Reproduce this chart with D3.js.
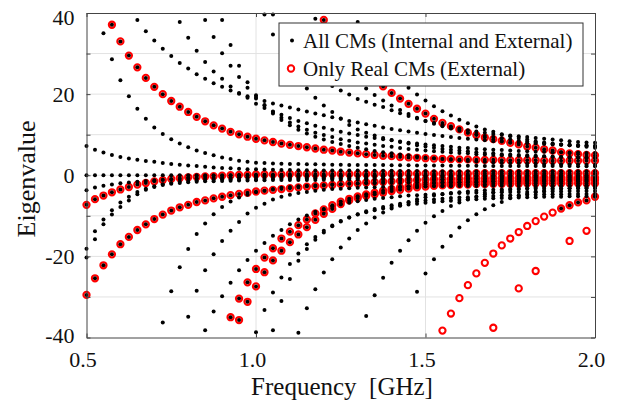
<!DOCTYPE html>
<html>
<head>
<meta charset="utf-8">
<script src="https://cdnjs.cloudflare.com/ajax/libs/d3/7.8.5/d3.min.js"></script>
<style>
  body { margin: 0; background: #fff; }
  svg { display: block; font-family: "Liberation Serif", "Times New Roman", serif; }
</style>
</head>
<body>
<svg id="chart" width="618" height="404"></svg>
<script>
// frequency samples [GHz]
var freqs = [0.5, 0.525, 0.55, 0.575, 0.6, 0.625, 0.65, 0.675, 0.7, 0.725,
             0.75, 0.775, 0.8, 0.825, 0.85, 0.875, 0.9, 0.925, 0.95, 0.975,
             1.0, 1.025, 1.05, 1.075, 1.1, 1.125, 1.15, 1.175, 1.2, 1.225,
             1.25, 1.275, 1.3, 1.325, 1.35, 1.375, 1.4, 1.425, 1.45, 1.475,
             1.5, 1.525, 1.55, 1.575, 1.6, 1.625, 1.65, 1.675, 1.7, 1.725,
             1.75, 1.775, 1.8, 1.825, 1.85, 1.875, 1.9, 1.925, 1.95, 1.975, 2.0];

// each curve: [first frequency, eigenvalues from there on]
// internal CMs only (black dots, no red ring)
var blackOnly = [
  [0.5, [0,0,0,0,0,0,0,0,0,0, 0,0,0,0,0,0,0,0,0,0, 0,0,0,0,0,0,0,0,0,0,
         0,0,0,0,0,0,0,0,0,0, 0,0,0,0,0,0,0,0,0,0, 0,0,0,0,0,0,0,0,0,0, 0]],
  [0.5, [7.2,6.3,5.6,5.0,4.5,4.1,3.8,3.5,3.3,3.0, 2.8,2.6,2.4,2.3,2.1,1.9,1.8,1.7,1.6,1.5,
         1.45,1.4,1.35,1.3,1.3,1.25,1.25,1.2,1.2,1.2, 1.15,1.15,1.15,1.1,1.1,1.1,1.1,1.05,1.05,1.05,
         1.05,1.0,1.0,1.0,1.0,1.0,1.0,1.0,1.0,1.0, 1.0,1.0,1.0,1.0,1.0,1.0,1.0,1.0,1.0,1.0, 1.0]],
  [0.55, [35.0,28.6,23.4,19.5,16.4,13.9,11.8,10.2, 8.9,7.8,6.9,6.1,5.5,4.9,4.4,4.0,3.6,3.3,
          3.1,3.0,2.9,2.85,2.8,2.75,2.7,2.7,2.65,2.6, 2.6,2.55,2.55,2.5,2.5,2.5,2.45,2.45,2.45,2.4,
          2.4,2.4,2.4,2.35,2.35,2.35,2.35,2.3,2.3,2.3, 2.3,2.3,2.3,2.25,2.25,2.25,2.25,2.25,2.2,2.2, 2.2]],
  [0.65, [38.3,35.5,33.2,31.2, 29.4,27.7,26.3,24.9,23.8,22.7,21.8,20.9,20.1,19.5,
          18.9,18.3,17.7,17.2,16.7,16.2,15.7,15.2,14.8,14.3, 13.9,13.4,13.0,12.6,12.2,11.8,11.4,11.1,10.8,10.5,
          10.2,9.9,9.7,9.4,9.2,9.0,8.8,8.6,8.4,8.3, 8.1,8.0,7.9,7.8,7.7,7.6,7.5,7.5,7.4,7.4, 7.3]],
  [0.775, [37.8,33.9,30.7,27.9,25.6,23.8,21.9,20.3,19.1,
           17.6,16.6,15.7,14.9,14.1,13.4,12.8,12.2,11.7,11.2, 10.7,10.3,9.9,9.5,9.2,8.9,8.6,8.3,8.0,7.8,
           7.6,7.4,7.2,7.0,6.8,6.7,6.5,6.4,6.3,6.2, 6.1,6.0,5.9,5.8,5.8,5.7,5.7,5.6,5.6,5.5, 5.5]],
  [0.85, [38.3,34.1,30.1,27.0,24.2,21.6,
          19.3,17.3,15.6,14.2,13.0,12.0,11.2,10.5,9.9,9.4, 8.9,8.5,8.1,7.8,7.5,7.2,7.0,6.7,6.5,6.3,
          6.1,5.9,5.8,5.6,5.5,5.4,5.2,5.1,5.0,4.9, 4.8,4.8,4.7,4.6,4.6,4.5,4.5,4.4,4.4,4.3, 4.3]],
  [0.9, [38.3,32.1,27.0,22.9,
         19.7,17.2,15.2,13.6,12.3,11.2,10.3,9.5,8.8,8.2, 7.7,7.2,6.8,6.4,6.0,5.7,5.4,5.1,4.9,4.6,
         4.4,4.2,4.0,3.8,3.7,3.5,3.4,3.3,3.2,3.1, 3.0,3.0,2.9,2.9,2.8,2.8,2.7,2.7,2.7,2.6, 2.6]],
  [1.025, [39.6,34.7,30.5,27.0,24.0,21.4,19.1,17.2,15.6,
           14.0,12.4,11.3,10.5,9.8,9.2,8.7,8.2,7.8,7.4, 7.1,6.8,6.5,6.3,6.1,5.9,5.7,5.5,5.4,5.2,
           5.1,5.0,4.9,4.8,4.7,4.6,4.5,4.5,4.4,4.3, 4.3]],
  [1.05, [39.6,36.0,32.8,30.0,27.6,25.4,23.5,22.0,
          20.9,19.9,18.8,18.1,17.4,16.8,16.0,15.3,14.6,14.0, 13.4,12.9,12.4,11.9,11.5,11.1,10.8,10.5,10.2,10.0,
          9.8,9.6,9.4,9.2,9.0,8.8,8.6,8.4,8.2,8.1, 8.0]],
  [1.175, [38.6,34.5,31.0,
           28.0,25.5,23.3,21.4,19.8,18.4,17.2,16.1,15.1,14.2, 13.4,12.7,12.1,11.5,11.0,10.5,10.1,9.7,9.4,9.1,
           8.8,8.5,8.3,8.1,7.9,7.7,7.6,7.4,7.3,7.2, 7.1]],
  [1.3, [37.8,34.0,30.8,28.0,25.6,23.5,21.6,19.9,
         18.4,17.0,15.8,14.7,13.7,12.8,12.0,11.3,10.7,10.1, 9.6,9.2,8.8,8.4,8.1,7.8,7.6,7.4,7.2,7.0, 6.8]],
  [0.5, [-3.7,-3.0,-2.6,-2.3,-2.0,-1.8,-1.6,-1.4,-1.25,-1.1, -1.0,-0.9,-0.8,-0.75,-0.7,-0.65,-0.6,-0.55,-0.5,-0.5,
         -0.45,-0.45,-0.4,-0.4,-0.4,-0.4,-0.35,-0.35,-0.35,-0.35, -0.35,-0.3,-0.3,-0.3,-0.3,-0.3,-0.3,-0.3,-0.3,-0.3,
         -0.3,-0.3,-0.3,-0.3,-0.3,-0.3,-0.3,-0.3,-0.3,-0.3, -0.3,-0.3,-0.3,-0.3,-0.3,-0.3,-0.3,-0.3,-0.3,-0.3, -0.3]],
  [0.5, [-18.1,-13.8,-10.9,-8.6,-6.7,-5.3,-4.1,-3.3,-2.7,-2.2, -1.9,-1.6,-1.4,-1.3,-1.2,-1.1,-1.0,-1.0,-0.95,-0.9,
         -0.9,-0.85,-0.85,-0.8,-0.8,-0.8,-0.8,-0.75,-0.75,-0.75, -0.75,-0.75,-0.75,-0.75,-0.7,-0.7,-0.7,-0.7,-0.7,-0.7,
         -0.7,-0.7,-0.7,-0.7,-0.7,-0.7,-0.7,-0.7,-0.7,-0.7, -0.7,-0.7,-0.7,-0.7,-0.7,-0.7,-0.7,-0.7,-0.7,-0.7, -0.7]],
  [0.5, [-20.3,-15.8,-12.1,-9.7,-7.8,-6.2,-4.7,-3.6,-2.9,-2.4, -2.1,-1.9,-1.7,-1.6,-1.5,-1.45,-1.4,-1.35,-1.3,-1.3,
         -1.25,-1.25,-1.2,-1.2,-1.2,-1.15,-1.15,-1.15,-1.1,-1.1, -1.1,-1.1,-1.1,-1.1,-1.1,-1.1,-1.1,-1.1,-1.1,-1.1,
         -1.1,-1.1,-1.1,-1.1,-1.1,-1.1,-1.1,-1.1,-1.1,-1.1, -1.1,-1.1,-1.1,-1.1,-1.1,-1.1,-1.1,-1.1,-1.1,-1.1, -1.1]],
  [0.725, [-36.3, -28.6,-22.7,-18.2,-14.5,-11.9,-9.6,-7.8,-6.5,-5.5,-4.8,
           -4.2,-3.8,-3.4,-3.1,-2.9,-2.7,-2.6,-2.5,-2.4,-2.3, -2.2,-2.1,-2.1,-2.0,-2.0,-1.9,-1.9,-1.9,-1.8,-1.8,
           -1.8,-1.8,-1.7,-1.7,-1.7,-1.7,-1.7,-1.6,-1.6,-1.6, -1.6,-1.6,-1.6,-1.6,-1.5,-1.5,-1.5,-1.5,-1.5,-1.5, -1.5]],
  [0.8, [-34.9,-28.5,-23.4,-19.5,-16.2,-13.7,-11.5,-9.4,
         -8.0,-7.0,-6.0,-5.3,-4.8,-4.4,-4.1,-3.8,-3.6,-3.4, -3.3,-3.2,-3.1,-3.0,-2.95,-2.9,-2.85,-2.8,-2.8,-2.75,
         -2.75,-2.7,-2.7,-2.7,-2.65,-2.65,-2.65,-2.6,-2.6,-2.6, -2.6,-2.6,-2.55,-2.55,-2.55,-2.55,-2.5,-2.5,-2.5,-2.5, -2.5]],
  [0.85, [-38.2,-33.6,-29.8,-26.5,-23.4,-20.9,
          -18.6,-16.7,-14.9,-13.5,-12.1,-10.9,-9.9,-9.0,-8.3,-7.7, -7.2,-6.8,-6.4,-6.1,-5.8,-5.6,-5.4,-5.2,-5.0,-4.9,
          -4.8,-4.7,-4.6,-4.5,-4.4,-4.4,-4.3,-4.3,-4.2,-4.2, -4.1,-4.1,-4.1,-4.0,-4.0,-4.0,-4.0,-3.9,-3.9,-3.9, -3.9]],
  [1.0, [-38.7,-33.2,-28.9,-25.2,-21.9,-19.3,-17.0,-15.2,-13.7,-12.4, -11.3,-10.4,-9.7,-9.1,-8.6,-8.2,-7.8,-7.5,-7.2,-7.0,
         -6.8,-6.6,-6.4,-6.3,-6.1,-6.0,-5.9,-5.8,-5.7,-5.6, -5.5,-5.5,-5.4,-5.4,-5.3,-5.3,-5.3,-5.2,-5.2,-5.2, -5.2]],
  [1.05, [-38.2,-31.0,-25.6,-21.1,-18.2,-15.9,-14.1,-12.6,
          -11.4,-10.4,-9.6,-8.9,-8.3,-7.8,-7.4,-7.0,-6.7,-6.4, -6.2,-6.0,-5.8,-5.6,-5.5,-5.4,-5.3,-5.2,-5.1,-5.0,
          -4.9,-4.9,-4.8,-4.8,-4.7,-4.7,-4.7,-4.6,-4.6,-4.6, -4.6]],
  [1.125, [-38.8,-32.8,-28.1,-24.0,-20.7,
           -17.8,-15.6,-13.5,-11.9,-10.4,-9.2,-8.2,-7.4,-6.6,-5.9, -5.4,-5.0,-4.7,-4.4,-4.2,-4.0,-3.8,-3.7,-3.6,-3.5,
           -3.4,-3.4,-3.3,-3.3,-3.3,-3.2,-3.2,-3.2,-3.2,-3.2, -3.2]],
  [1.325, [-34.7,-29.6,-25.3,-21.6,-18.6,-16.0,-13.7,
           -11.7,-10.1,-8.8,-7.6,-6.7,-5.9,-5.3,-4.7,-4.3,-3.9, -3.6,-3.4,-3.2,-3.0,-2.9,-2.8,-2.7,-2.6,-2.6,-2.5, -2.5]],
  [1.475, [-28.7, -24.2,-20.7,-17.6,-15.0,-12.9,-11.1,-9.6,-8.4,-7.4,-6.6,
           -5.7,-5.1,-4.6,-4.2,-3.9,-3.6,-3.4,-3.2,-3.1,-3.0, -2.9]]
];

// real (external) CMs that are also in the full set: red ring with black dot
var realSolid = [
  [0.575, [37.1,33.0,29.5,26.6,24.0,21.8,20.0,
           18.3,16.9,15.6,14.4,13.3,12.3,11.5,10.7,10.1,9.5, 9.0,8.6,8.2,7.8,7.5,7.2,6.9,6.6,6.3,6.1,
           5.8,5.6,5.4,5.2,5.0,4.8,4.7,4.5,4.4,4.3, 4.2,4.1,4.0,4.0,3.9,3.9,3.8,3.8,3.8,3.7,
           3.7,3.7,3.7,3.7,3.6,3.6,3.6,3.6,3.6,3.6, 3.6]],
  [0.5, [-7.3,-5.9,-5.0,-4.2,-3.5,-2.9,-2.3,-1.9,-1.5,-1.2, -0.9,-0.7,-0.5,-0.4,-0.3,-0.2,-0.1,0.0,0.1,0.1,
         0.2,0.2,0.2,0.2,0.3,0.3,0.3,0.3,0.3,0.3, 0.3,0.3,0.3,0.3,0.3,0.4,0.4,0.4,0.4,0.4,
         0.4,0.4,0.4,0.4,0.4,0.4,0.5,0.5,0.5,0.5, 0.5,0.5,0.5,0.5,0.5,0.5,0.5,0.5,0.5,0.5, 0.5]],
  [1.2, [38.3,35.6, 33.0,30.6,28.4,26.3,24.0,21.9,20.3,18.9,17.6,16.4,
         15.2,13.9,12.9,12.1,11.3,10.5,9.9,9.3,8.9,8.5, 8.0,7.6,7.1,6.8,6.4,6.1,5.7,5.4,5.2,5.0, 4.9]],
  [0.5, [-29.5,-25.4,-22.2,-19.5,-17.0,-15.2,-13.5,-12.1,-10.8,-9.7, -8.7,-7.9,-7.3,-6.6,-6.2,-5.7,-5.3,-4.9,-4.6,-4.3,
         -4.0,-3.8,-3.6,-3.4,-3.2,-3.0,-2.8,-2.7,-2.5,-2.4, -2.2,-2.1,-2.0,-1.8,-1.7,-1.6,-1.5,-1.4,-1.3,-1.2,
         -1.1,-1.0,-1.0,-0.9,-0.9,-0.8,-0.8,-0.8,-0.7,-0.7, -0.7,-0.7,-0.7,-0.6,-0.6,-0.6,-0.6,-0.6,-0.6,-0.6, -0.6]],
  [0.925, [-35.0,-30.4,-26.4,
           -23.1,-20.3,-18.0,-15.6,-13.9,-12.3,-10.9,-9.4,-8.4,-7.4, -6.5,-5.8,-5.2,-4.7,-4.3,-3.8,-3.4,-3.0,-2.7,-2.4,
           -2.2,-2.0,-1.9,-1.8,-1.7,-1.6,-1.6,-1.5,-1.5,-1.4, -1.4,-1.4,-1.3,-1.3,-1.3,-1.3,-1.2,-1.2,-1.2,-1.2, -1.2]],
  [0.95, [-35.7,-31.2,
          -27.4,-23.9,-21.0,-18.6,-16.5,-14.6,-12.8,-11.0,-9.5,-8.3, -7.1,-6.2,-5.6,-5.1,-4.7,-4.3,-3.9,-3.6,-3.3,-3.0,
          -2.8,-2.6,-2.5,-2.4,-2.3,-2.3,-2.2,-2.2,-2.1,-2.1, -2.1,-2.1,-2.0,-2.0,-2.0,-2.0,-2.0,-2.0,-2.0,-2.0, -2.0]],
  [1.9, [-8.2,-7.4,-6.7,-6.2,-5.3]]
];

// real CMs with no matching dot: red ring only
var realHollow = [
  [1.55, [-38.3,-34.1,-30.3,-27.1,-24.2,-21.6,-19.3,-17.3,-15.6,-14.0,-12.5,-11.3,-10.2,-9.2]]
];
var sparseRealF = [1.7, 1.775, 1.825, 1.925, 1.975];
var sparseRealV = [-37.6, -27.9, -23.6, -16.2, -13.7];

var xTicks = [0.5, 1.0, 1.5, 2.0];
var yTicks = [-40, -30, -20, -10, 0, 10, 20, 30, 40];
var yLabelled = [-40, -20, 0, 20, 40];
var legendLabels = ['All CMs (Internal and External)', 'Only Real CMs (External)'];

var svg = d3.select('#chart');
var plotL = 86.5, plotR = 595, plotT = 13, plotB = 337.5;

var x = d3.scaleLinear().domain([0.5, 2.0]).range([plotL, plotR]);
var y = d3.scaleLinear().domain([-40, 40]).range([plotB, plotT]);

// turn [start, values] curves into points
function toPoints(curves) {
    return curves.flatMap(function(c) {
        var s = freqs.indexOf(c[0]);
        return c[1].map(function(v, k) { return {f: freqs[s + k], v: v}; });
    });
}

// grid
var grid = svg.append('g').attr('stroke', '#e2e2e2').attr('stroke-width', 1);
grid.selectAll('.hg')
    .data(yTicks.filter(function(t) { return t > -40 && t < 40; }))
    .enter().append('line')
    .attr('x1', plotL).attr('x2', plotR)
    .attr('y1', function(d) { return y(d); }).attr('y2', function(d) { return y(d); });
grid.selectAll('.vg')
    .data(xTicks.slice(1, -1))
    .enter().append('line')
    .attr('y1', plotT).attr('y2', plotB)
    .attr('x1', function(d) { return x(d); }).attr('x2', function(d) { return x(d); });

// red rings
var redPts = toPoints(realSolid).concat(toPoints(realHollow))
    .concat(sparseRealF.map(function(f, i) { return {f: f, v: sparseRealV[i]}; }));
svg.append('g').selectAll('circle')
    .data(redPts)
    .enter().append('circle')
    .attr('cx', function(d) { return x(d.f); })
    .attr('cy', function(d) { return y(d.v); })
    .attr('r', 3.1)
    .attr('fill', 'none')
    .attr('stroke', '#ff0000')
    .attr('stroke-width', 2.1);

// black dots (all CMs)
var blackPts = toPoints(blackOnly).concat(toPoints(realSolid));
svg.append('g').selectAll('circle')
    .data(blackPts)
    .enter().append('circle')
    .attr('cx', function(d) { return x(d.f); })
    .attr('cy', function(d) { return y(d.v); })
    .attr('r', 2.0)
    .attr('fill', '#000');

// axes
var axisColor = '#444';
var ax = svg.append('g').attr('transform', 'translate(0,' + plotB + ')')
    .call(d3.axisBottom(x).tickValues(xTicks).tickSize(-4).tickSizeOuter(0)
          .tickPadding(14).tickFormat(d3.format('.1f')));
var ay = svg.append('g').attr('transform', 'translate(' + plotL + ',0)')
    .call(d3.axisLeft(y).tickValues(yTicks).tickSize(-4).tickSizeOuter(0).tickPadding(12)
          .tickFormat(function(d) { return yLabelled.indexOf(d) >= 0 ? d : ''; }));
var at = svg.append('g').attr('transform', 'translate(0,' + plotT + ')')
    .call(d3.axisTop(x).tickValues(xTicks).tickSize(-4).tickSizeOuter(0).tickFormat(''));
var ar = svg.append('g').attr('transform', 'translate(' + plotR + ',0)')
    .call(d3.axisRight(y).tickValues(yTicks).tickSize(-4).tickSizeOuter(0).tickFormat(''));

[ax, ay, at, ar].forEach(function(g) {
    g.selectAll('path, line').attr('stroke', axisColor).attr('stroke-width', 1);
    g.selectAll('text')
     .attr('font-family', '"Liberation Serif", "Times New Roman", serif')
     .attr('font-size', 22).attr('fill', '#111');
});
ax.selectAll('text').attr('dx', -4);
ay.selectAll('text').attr('y', function(d) { return d === 40 ? 4 : (d === -40 ? -2 : 0); });

// axis titles
svg.append('text')
    .attr('x', 342).attr('y', 395)
    .attr('text-anchor', 'middle')
    .attr('font-size', 25).attr('fill', '#111')
    .style('white-space', 'pre')
    .text('Frequency  [GHz]');
svg.append('text')
    .attr('transform', 'translate(35,179) rotate(-90)')
    .attr('text-anchor', 'middle')
    .attr('font-size', 26).attr('fill', '#111')
    .text('Eigenvalue');

// legend
var lg = svg.append('g');
lg.append('rect')
    .attr('x', 279).attr('y', 23).attr('width', 304).attr('height', 63)
    .attr('fill', '#fff').attr('stroke', '#333').attr('stroke-width', 1);
lg.append('circle').attr('cx', 292).attr('cy', 40.5).attr('r', 2).attr('fill', '#000');
lg.append('circle').attr('cx', 291).attr('cy', 68.5).attr('r', 3.2)
    .attr('fill', 'none').attr('stroke', '#ff0000').attr('stroke-width', 2);
lg.selectAll('text')
    .data(legendLabels)
    .enter().append('text')
    .attr('x', 303)
    .attr('y', function(d, i) { return 48 + i * 28; })
    .attr('font-size', 21).attr('fill', '#111')
    .text(function(d) { return d; });
</script>
</body>
</html>
